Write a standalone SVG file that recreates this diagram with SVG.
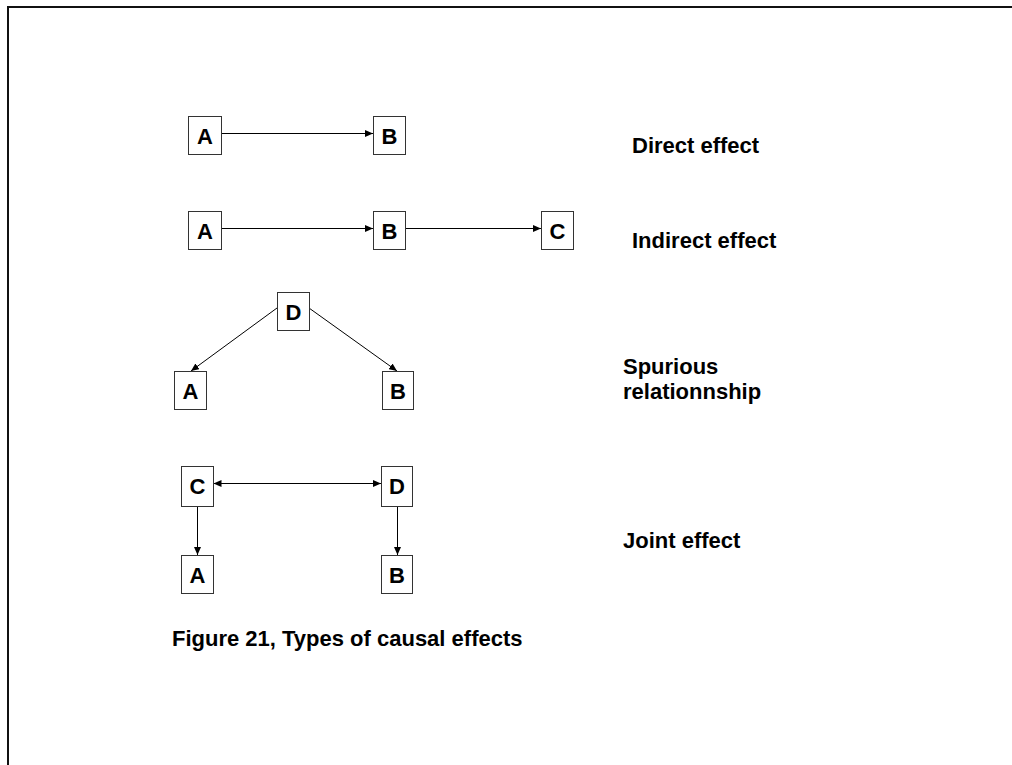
<svg xmlns="http://www.w3.org/2000/svg" width="1012" height="765" viewBox="0 0 1012 765">
  <style>
    .box { fill: #ffffff; stroke: #333333; stroke-width: 1; }
    .lbl { font-family: "Liberation Sans", Arial, sans-serif; font-weight: bold; font-size: 22px; fill: #000000; }
    .mid { text-anchor: middle; }
    .edge { stroke: #000000; stroke-width: 1; fill: none; marker-end: url(#head); }
    .both { marker-start: url(#head); }
  </style>
  <defs>
    <marker id="head" markerUnits="userSpaceOnUse" markerWidth="9" markerHeight="7" refX="8" refY="3.5" orient="auto-start-reverse">
      <path d="M0,0 L8,3.5 L0,7 z" fill="#000000"/>
    </marker>
  </defs>

  <rect x="0" y="0" width="1012" height="765" fill="#ffffff"/>
  <!-- page frame -->
  <path d="M8,765 V7 H1012" fill="none" stroke="#111111" stroke-width="2"/>

  <!-- connectors -->
  <g id="connectors">
    <line class="edge" x1="221.5" y1="133.5" x2="373" y2="133.5"/>
    <line class="edge" x1="221.5" y1="228.5" x2="373" y2="228.5"/>
    <line class="edge" x1="405.5" y1="228.5" x2="541" y2="228.5"/>
    <line class="edge" x1="277" y1="308" x2="191" y2="371"/>
    <line class="edge" x1="309" y1="308" x2="397" y2="371"/>
    <line class="edge both" x1="213.5" y1="483.5" x2="381" y2="483.5"/>
    <line class="edge" x1="197.5" y1="506.5" x2="197.5" y2="555"/>
    <line class="edge" x1="397.5" y1="506.5" x2="397.5" y2="555"/>
  </g>

  <!-- direct effect -->
  <g id="direct-A"><rect class="box" x="188.5" y="116.5" width="33" height="38"/><text class="lbl mid" x="205" y="144">A</text></g>
  <g id="direct-B"><rect class="box" x="373.5" y="116.5" width="32" height="38"/><text class="lbl mid" x="389.5" y="144">B</text></g>

  <!-- indirect effect -->
  <g id="indirect-A"><rect class="box" x="188.5" y="211.5" width="33" height="38"/><text class="lbl mid" x="205" y="239">A</text></g>
  <g id="indirect-B"><rect class="box" x="373.5" y="211.5" width="32" height="38"/><text class="lbl mid" x="389.5" y="239">B</text></g>
  <g id="indirect-C"><rect class="box" x="541.5" y="211.5" width="32" height="38"/><text class="lbl mid" x="557.5" y="239">C</text></g>

  <!-- spurious relationship -->
  <g id="spurious-D"><rect class="box" x="277.5" y="292.5" width="32" height="38"/><text class="lbl mid" x="293.5" y="320">D</text></g>
  <g id="spurious-A"><rect class="box" x="174.5" y="371.5" width="32" height="38"/><text class="lbl mid" x="190.5" y="399">A</text></g>
  <g id="spurious-B"><rect class="box" x="382.5" y="371.5" width="31" height="38"/><text class="lbl mid" x="398" y="399">B</text></g>

  <!-- joint effect -->
  <g id="joint-C"><rect class="box" x="181.5" y="466.5" width="32" height="40"/><text class="lbl mid" x="197.5" y="494">C</text></g>
  <g id="joint-D"><rect class="box" x="381.5" y="466.5" width="31" height="40"/><text class="lbl mid" x="397" y="494">D</text></g>
  <g id="joint-A"><rect class="box" x="181.5" y="555.5" width="32" height="38"/><text class="lbl mid" x="197.5" y="583">A</text></g>
  <g id="joint-B"><rect class="box" x="381.5" y="555.5" width="31" height="38"/><text class="lbl mid" x="397" y="583">B</text></g>

  <!-- row captions -->
  <g id="captions">
    <text class="lbl" x="632" y="153">Direct effect</text>
    <text class="lbl" x="632" y="248">Indirect effect</text>
    <text class="lbl" x="623" y="374">Spurious</text>
    <text class="lbl" x="623" y="399">relationnship</text>
    <text class="lbl" x="623" y="548">Joint effect</text>
    <text class="lbl" x="172" y="646">Figure 21, Types of causal effects</text>
  </g>
</svg>
